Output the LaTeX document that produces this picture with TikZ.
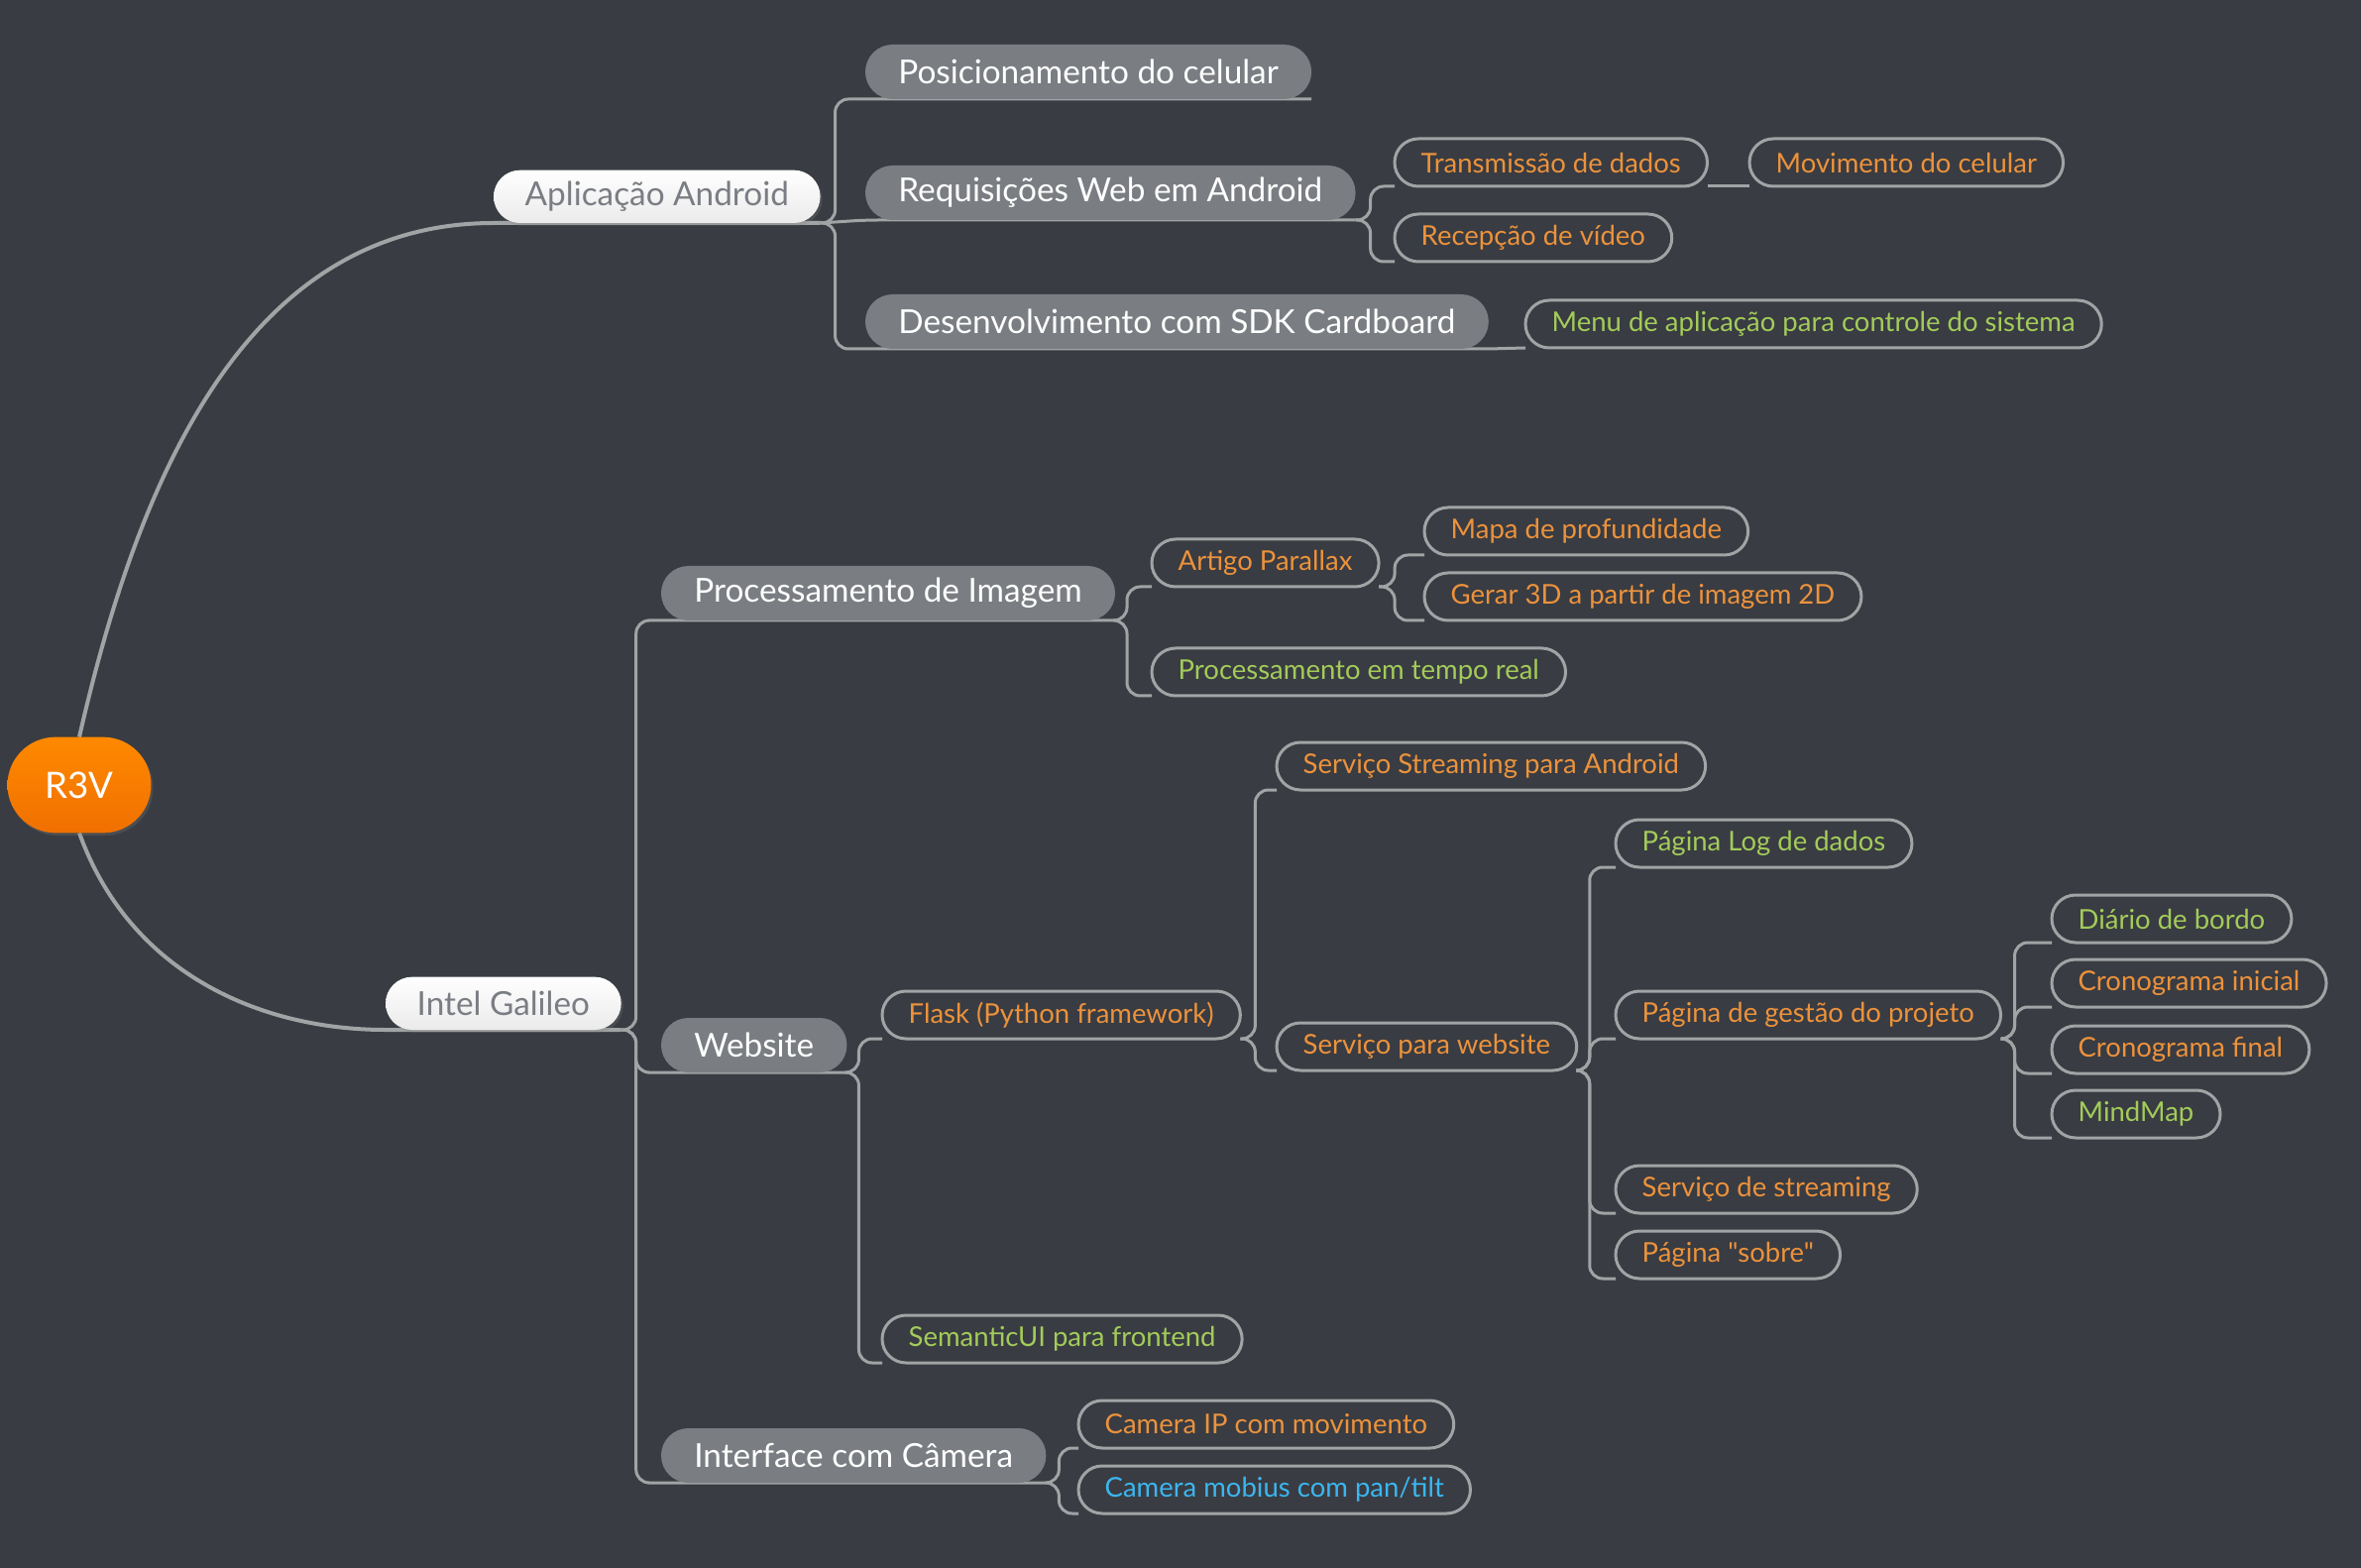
\documentclass[tikz,border=0pt]{standalone}
\usepackage{fontspec}
\setmainfont{Lato}[Ligatures=TeXOff]
\usetikzlibrary{shadows}
\definecolor{bgdark}{RGB}{57,60,66}
\definecolor{linkgray}{RGB}{161,164,165}
\definecolor{topicgray}{RGB}{122,125,130}
\definecolor{txtgray}{RGB}{122,125,131}
\definecolor{orangetxt}{RGB}{236,146,60}
\definecolor{greentxt}{RGB}{163,203,90}
\definecolor{bluetxt}{RGB}{59,182,240}
\definecolor{rootA}{RGB}{255,137,0}
\definecolor{rootB}{RGB}{240,112,0}
\pgfdeclarelayer{back}
\pgfdeclarelayer{links}
\pgfsetlayers{back,links,main}

\begin{document}
\begin{tikzpicture}[x=0.3pt,y=-0.3pt,outer sep=0pt,
  link/.style={draw=linkgray,line width=0.9pt,rounded corners=4pt},
  rootlink/.style={draw=linkgray,line width=1.2pt},
  centre/.style={rounded corners=14.5pt,top color=rootA,bottom color=rootB,text=white,
    minimum width=43.5pt,minimum height=29pt,font=\fontsize{11}{13}\selectfont,
    drop shadow={opacity=.25,shadow xshift=.6pt,shadow yshift=-.8pt}},
  branch/.style={anchor=south west,rounded corners=8pt,top color=white,bottom color=black!8,
    text=txtgray,minimum height=16pt,inner xsep=9.5pt,inner ysep=2pt,
    font=\fontsize{10}{12}\selectfont,drop shadow={opacity=.25,shadow xshift=.6pt,shadow yshift=-.8pt}},
  topic/.style={anchor=south west,rounded corners=8.25pt,fill=topicgray,text=white,
    minimum height=16.5pt,inner xsep=10pt,inner ysep=2pt,font=\fontsize{10}{12}\selectfont},
  leaf/.style={anchor=south west,rounded corners=7.2pt,draw=linkgray,line width=0.9pt,
    minimum height=14.4pt,inner xsep=8pt,inner ysep=2pt,font=\fontsize{8.25}{9.5}\selectfont,
    text=orangetxt},
  leafgreen/.style={leaf,text=greentxt},
  leafblue/.style={leaf,text=bluetxt}]
\useasboundingbox (0,0) rectangle (2382,1582);
\begin{pgfonlayer}{back}
\fill[bgdark] (0,0) rectangle (2382,1582);
\end{pgfonlayer}

\node[centre] (root) at (80,792) {R3V};
\node[branch] (app) at (498,225) {Aplicação Android};
\node[branch] (gal) at (389,1039) {Intel Galileo};

\node[topic] (pos) at (873,100) {Posicionamento do celular};
\node[topic] (req) at (873,222) {Requisições Web em Android};
\node[topic] (sdk) at (873,352) {Desenvolvimento com SDK Cardboard};
\node[leaf] (trans) at (1407,188) {Transmissão de dados};
\node[leaf] (mov) at (1765,188) {Movimento do celular};
\node[leaf] (recep) at (1407,264) {Recepção de vídeo};
\node[leafgreen] (menu) at (1539,351) {Menu de aplicação para controle do sistema};

\node[topic] (proc) at (667,626) {Processamento de Imagem};
\node[topic] (web) at (667,1082) {Website};
\node[topic] (cam) at (667,1496) {Interface com Câmera};
\node[leaf] (parallax) at (1162,592) {Artigo Parallax};
\node[leaf] (mapa) at (1437,560) {Mapa de profundidade};
\node[leaf] (gerar) at (1437,626) {Gerar 3D a partir de imagem 2D};
\node[leafgreen] (tempo) at (1162,702) {Processamento em tempo real};
\node[leaf] (flask) at (890,1048) {Flask (Python framework)};
\node[leafgreen] (semui) at (890,1375) {SemanticUI para frontend};
\node[leaf] (strand) at (1288,797) {Serviço Streaming para Android};
\node[leaf] (servweb) at (1288,1080) {Serviço para website};
\node[leafgreen] (log) at (1630,875) {Página Log de dados};
\node[leaf] (gestao) at (1630,1048) {Página de gestão do projeto};
\node[leaf] (stream) at (1630,1224) {Serviço de streaming};
\node[leaf] (sobre) at (1630,1290) {Página "sobre"};
\node[leafgreen] (diario) at (2070,951) {Diário de bordo};
\node[leaf] (cini) at (2070,1016) {Cronograma inicial};
\node[leaf] (cfin) at (2070,1083) {Cronograma final};
\node[leafgreen] (mind) at (2070,1148) {MindMap};
\node[leaf] (camip) at (1088,1461) {Camera IP com movimento};
\node[leafblue] (mobius) at (1088,1527) {Camera mobius com pan/tilt};

\begin{pgfonlayer}{links}
\draw[rootlink] (root.north) .. controls (140,480) and (250,225) .. (app.south west) -- (app.south east);
\draw[rootlink] (root.south) .. controls (130,980) and (260,1039) .. (gal.south west) -- (gal.south east);

\draw[link] (app.south east) -- ++(15,0) |- (pos.south west) -- (pos.south east);
\draw[link] (app.south east) -- (req.south west) -- (req.south east);
\draw[link] (app.south east) -- ++(15,0) |- (sdk.south west) -- (sdk.south east);
\draw[link] (req.south east) -- ++(15,0) |- (trans.south west);
\draw[link] (req.south east) -- ++(15,0) |- (recep.south west);
\draw[link] (trans.south east) -- (mov.south west);
\draw[link] (sdk.south east) -- (menu.south west);

\draw[link] (gal.south east) -- ++(15,0) |- (proc.south west) -- (proc.south east);
\draw[link] (gal.south east) -- ++(15,0) |- (web.south west) -- (web.south east);
\draw[link] (gal.south east) -- ++(15,0) |- (cam.south west) -- (cam.south east);
\draw[link] (proc.south east) -- ++(12,0) |- (parallax.south west);
\draw[link] (proc.south east) -- ++(12,0) |- (tempo.south west);
\draw[link] (parallax.south east) -- ++(16,0) |- (mapa.south west);
\draw[link] (parallax.south east) -- ++(16,0) |- (gerar.south west);
\draw[link] (web.south east) -- ++(12,0) |- (flask.south west);
\draw[link] (web.south east) -- ++(12,0) |- (semui.south west);
\draw[link] (flask.south east) -- ++(15,0) |- (strand.south west);
\draw[link] (flask.south east) -- ++(15,0) |- (servweb.south west);
\draw[link] (servweb.south east) -- ++(13,0) |- (log.south west);
\draw[link] (servweb.south east) -- ++(13,0) |- (gestao.south west);
\draw[link] (servweb.south east) -- ++(13,0) |- (stream.south west);
\draw[link] (servweb.south east) -- ++(13,0) |- (sobre.south west);
\draw[link] (gestao.south east) -- ++(14,0) |- (diario.south west);
\draw[link] (gestao.south east) -- ++(14,0) |- (cini.south west);
\draw[link] (gestao.south east) -- ++(14,0) |- (cfin.south west);
\draw[link] (gestao.south east) -- ++(14,0) |- (mind.south west);
\draw[link] (cam.south east) -- ++(13,0) |- (camip.south west);
\draw[link] (cam.south east) -- ++(13,0) |- (mobius.south west);
\end{pgfonlayer}
\end{tikzpicture}
\end{document}
